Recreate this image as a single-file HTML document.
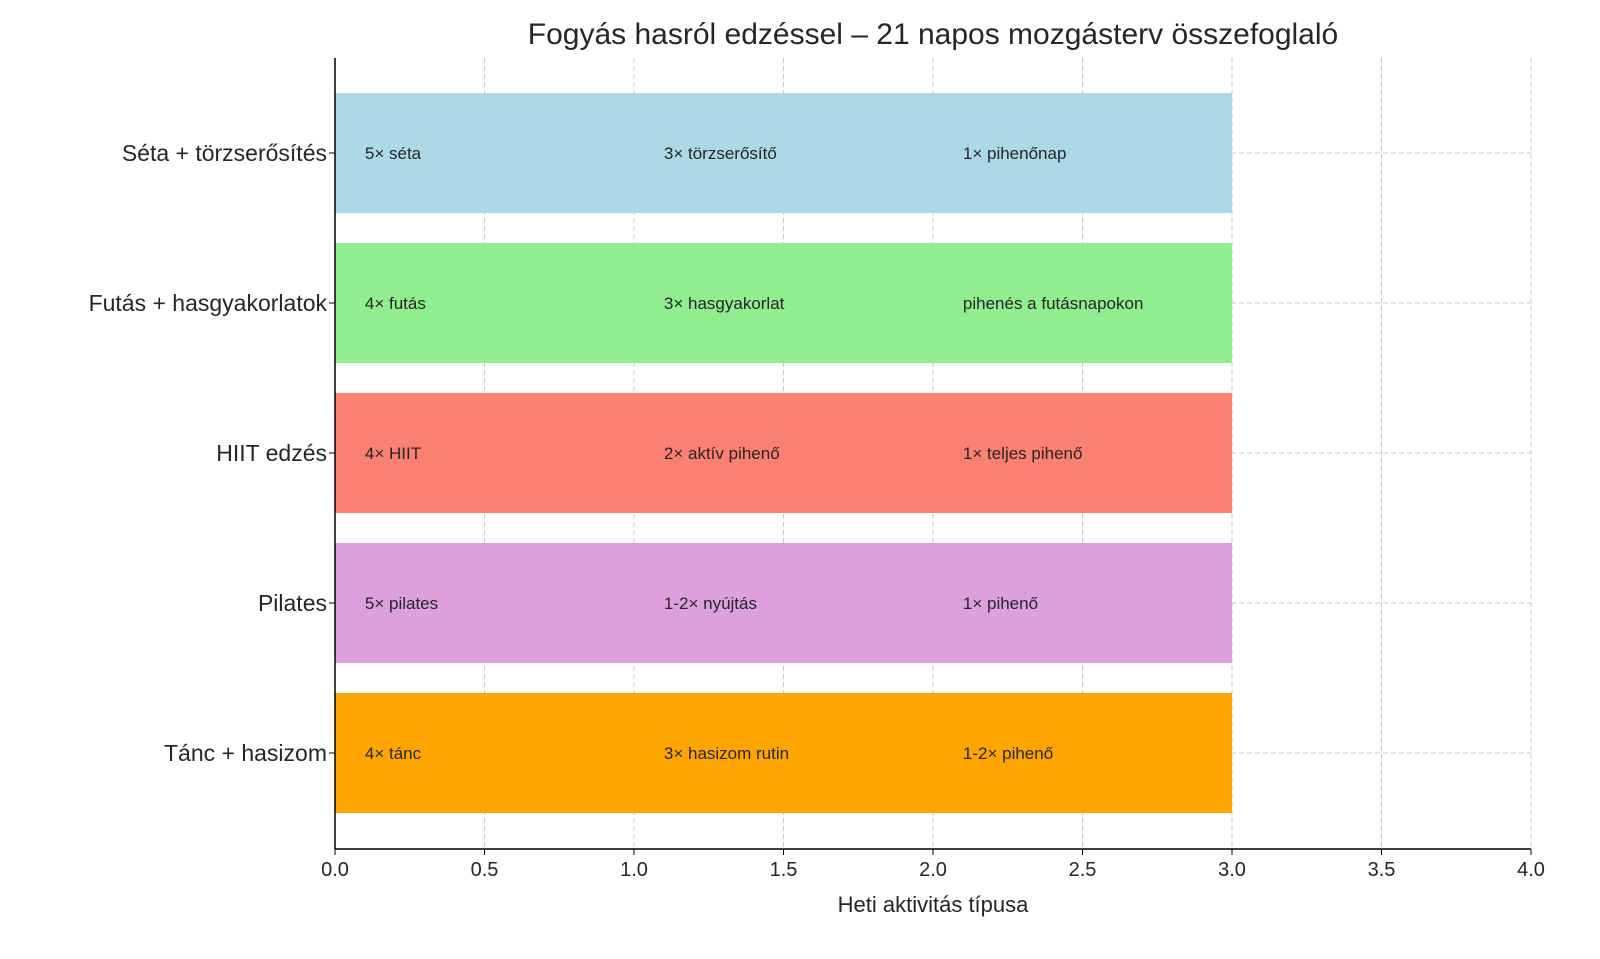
<!DOCTYPE html>
<html><head><meta charset="utf-8"><style>
body{margin:0;background:#fff;}
svg text{font-family:"Liberation Sans","DejaVu Sans",sans-serif;fill:#262626;}
</style></head><body>
<svg id="chart" width="1600" height="954" viewBox="0 0 1600 954" xmlns="http://www.w3.org/2000/svg">
<text x="933" y="44" font-size="30" text-anchor="middle">Fogyás hasról edzéssel – 21 napos mozgásterv összefoglaló</text>
<g id="grid"></g>
<g id="bars"></g>
<g id="axes"></g>
<text x="933" y="912" font-size="22" text-anchor="middle">Heti aktivitás típusa</text>
</svg>
<script>
const categories=["Séta + törzserősítés","Futás + hasgyakorlatok","HIIT edzés","Pilates","Tánc + hasizom"];
const values=[3,3,3,3,3];
const colors=["#add8e6","#90ee90","#fa8072","#dda0dd","#ffa500"];
const notes=[["5× séta","3× törzserősítő","1× pihenőnap"],["4× futás","3× hasgyakorlat","pihenés a futásnapokon"],["4× HIIT","2× aktív pihenő","1× teljes pihenő"],["5× pilates","1-2× nyújtás","1× pihenő"],["4× tánc","3× hasizom rutin","1-2× pihenő"]];
const noteX=[0.1,1.1,2.1];
const xTicks=[0,0.5,1,1.5,2,2.5,3,3.5,4];
const NS="http://www.w3.org/2000/svg";
const xs=v=>335+v*299;
const ys=i=>153+i*150;
const axTop=58,axBottom=849;
function mk(t,a,p){const e=document.createElementNS(NS,t);for(const k in a)e.setAttribute(k,a[k]);p.appendChild(e);return e;}
const grid=document.getElementById('grid'),bars=document.getElementById('bars'),axes=document.getElementById('axes');
xTicks.forEach(t=>{
 const l=mk('line',{x1:xs(t),x2:xs(t),y1:axTop,y2:axBottom,stroke:'#c8c8c8','stroke-dasharray':'5,3','stroke-width':1},grid);
 
 
 const tk=mk('line',{x1:xs(t),x2:xs(t),y1:axBottom,y2:axBottom+6,stroke:'#000','stroke-width':1},axes);
 
 
 const tx=mk('text',{x:xs(t),y:axBottom+27,'font-size':20,'text-anchor':'middle'},axes);
 tx.textContent=t.toFixed(1);
 
 
});
categories.forEach((c,i)=>{
 const g=mk('line',{x1:xs(0),x2:xs(4),y1:ys(i),y2:ys(i),stroke:'#c8c8c8','stroke-dasharray':'5,3','stroke-width':1},grid);
 
 
 const r=mk('rect',{x:xs(0),y:ys(i)-60,width:xs(values[i])-xs(0),height:120,fill:colors[i]},bars);
 
 
 notes[i].forEach((n,j)=>{
  const t=mk('text',{x:xs(noteX[j]),y:ys(i)+6,'font-size':17},bars);
  t.textContent=n;
  
  
 });
 const tk=mk('line',{x1:xs(0)-6,x2:xs(0),y1:ys(i),y2:ys(i),stroke:'#000','stroke-width':1},axes);
 
 
 const lb=mk('text',{x:xs(0)-8,y:ys(i)+8,'font-size':23,'text-anchor':'end'},axes);
 lb.textContent=c;
 
 
});
const la=mk('line',{x1:xs(0),x2:xs(0),y1:axTop,y2:axBottom,stroke:'#000','stroke-width':1.5},axes);


const ba=mk('line',{x1:xs(0),x2:xs(4),y1:axBottom,y2:axBottom,stroke:'#000','stroke-width':1.5},axes);


</script>
</body></html>
